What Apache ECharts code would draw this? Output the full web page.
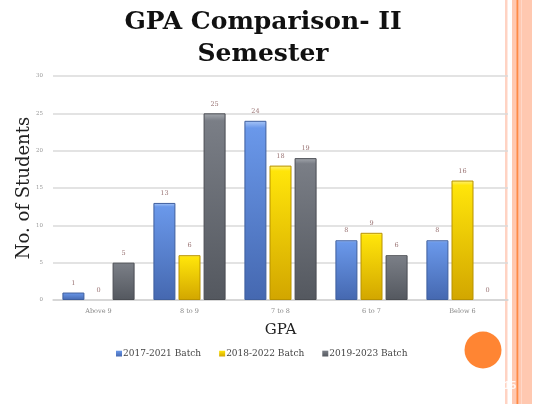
<!DOCTYPE html>
<html>
<head>
<meta charset="utf-8">
<style>
  html, body { margin: 0; padding: 0; background: #ffffff; }
  #chart { width: 540px; height: 404px; }
</style>
<script src="https://cdn.jsdelivr.net/npm/echarts@6/dist/echarts.min.js"></script>
</head>
<body>
<div id="chart"></div>
<script>
// GPA bands (x axis)
var categories = ['Above 9', '8 to 9', '7 to 8', '6 to 7', 'Below 6'];

// Number of students per GPA band, one list per batch
var batch2017 = [1, 13, 24, 8, 8];
var batch2018 = [0, 6, 18, 9, 16];
var batch2019 = [5, 25, 19, 6, 0];

var seriesNames = ['2017-2021 Batch', '2018-2022 Batch', '2019-2023 Batch'];

// y axis ticks: 0..30 step 5
var yMin = 0, yMax = 30, yStep = 5;

var serif = '"DejaVu Serif", "Liberation Serif", serif';

function barFill(top, mid, bottom) {
  return new echarts.graphic.LinearGradient(0, 0, 0, 1, [
    { offset: 0, color: top },
    { offset: 0.04, color: mid },
    { offset: 1, color: bottom }
  ]);
}

// empty bars (value 0) get no outline so nothing is drawn for them
function withOutline(values, border) {
  return values.map(function (v) {
    return { value: v, itemStyle: { borderColor: border, borderWidth: v === 0 ? 0 : 1 } };
  });
}

function barSeries(name, values, fill, border) {
  return {
    name: name,
    type: 'bar',
    data: withOutline(values, border),
    barWidth: 22,
    barGap: '14%',
    itemStyle: { color: fill },
    label: {
      show: true,
      position: 'top',
      distance: 6,
      color: '#9a7474',
      fontFamily: serif,
      fontSize: 6.5
    }
  };
}

var chart = echarts.init(document.getElementById('chart'), null, { renderer: 'canvas' });

chart.setOption({
  backgroundColor: '#ffffff',
  animation: false,
  title: [
    {
      text: 'GPA Comparison- II',
      left: 258, top: 5, textAlign: 'center',
      textStyle: { fontFamily: serif, fontWeight: 'bold', fontSize: 25, color: '#111111' }
    },
    {
      text: 'Semester',
      left: 258, top: 37, textAlign: 'center',
      textStyle: { fontFamily: serif, fontWeight: 'bold', fontSize: 25, color: '#111111' }
    }
  ],
  grid: { left: 53, right: 32, top: 76, bottom: 104, containLabel: false },
  legend: {
    data: seriesNames,
    left: 111,
    top: 344,
    itemWidth: 6,
    itemHeight: 6,
    itemGap: 18,
    icon: 'rect',
    textStyle: { fontFamily: serif, fontSize: 9, color: '#444444', padding: [0, 0, 0, -4] }
  },
  xAxis: {
    type: 'category',
    data: categories,
    name: 'GPA',
    nameLocation: 'middle',
    nameGap: 23,
    nameTextStyle: { fontFamily: serif, fontSize: 15, color: '#222222' },
    axisTick: { show: false },
    axisLine: { lineStyle: { color: '#d4d4d4', width: 1.5 } },
    axisLabel: { fontFamily: serif, fontSize: 6.5, color: '#888888', margin: 8 }
  },
  yAxis: {
    type: 'value',
    min: yMin,
    max: yMax,
    interval: yStep,
    name: 'No. of Students',
    nameLocation: 'middle',
    nameGap: 20,
    nameMoveOverlap: false,
    nameTextStyle: { fontFamily: serif, fontSize: 18, color: '#222222' },
    axisLine: { show: false },
    axisTick: { show: false },
    axisLabel: { fontFamily: serif, fontSize: 5.5, color: '#999999', margin: 10 },
    splitLine: { lineStyle: { color: '#dadada', width: 1.5 } }
  },
  series: [
    barSeries(seriesNames[0], batch2017, barFill('#a9c6f7', '#6a98ea', '#4568b0'), '#3f5f9e'),
    barSeries(seriesNames[1], batch2018, barFill('#fff27a', '#ffe50a', '#d2a600'), '#b89200'),
    barSeries(seriesNames[2], batch2019, barFill('#a4a8ae', '#7a7e86', '#54585f'), '#4a4d53')
  ],
  color: ['#5b88d8', '#f2cc00', '#6a6e75'],
  graphic: [
    // slide border stripes on the right
    { type: 'rect', shape: { x: 505, y: 0, width: 2.5, height: 404 }, style: { fill: '#ffd3c3' }, silent: true },
    { type: 'rect', shape: { x: 512, y: 0, width: 20, height: 404 }, style: { fill: '#ffc8b0' }, silent: true },
    { type: 'rect', shape: { x: 516.5, y: 0, width: 1.8, height: 404 }, style: { fill: '#ff8a45' }, silent: true },
    { type: 'rect', shape: { x: 521, y: 0, width: 1, height: 404 }, style: { fill: '#ffd8c8' }, silent: true },
    // orange dot
    { type: 'circle', shape: { cx: 483, cy: 350, r: 18.5 }, style: { fill: '#ff8533' }, silent: true },
    // slide number
    { type: 'text', x: 504, y: 380, style: { text: '15', fill: 'rgba(255,255,255,0.85)', font: 'bold 11px "Liberation Sans", sans-serif' }, silent: true }
  ]
});
</script>
</body>
</html>
